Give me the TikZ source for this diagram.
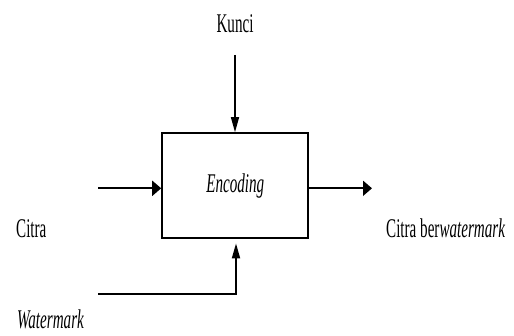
\documentclass[tikz,border=0pt]{standalone}
\usepackage{fontspec}
\setmainfont{Liberation Serif}[FakeStretch=0.56]
\usetikzlibrary{arrows.meta}
\begin{document}
\begin{tikzpicture}[x=1pt,y=-1pt,
    lbl/.style={font=\fontsize{27}{31}\selectfont, inner sep=0pt},
    harrow/.style={line width=1.8pt, -{Triangle[length=9pt,width=15pt]}},
    varrow/.style={line width=1.4pt, -{Triangle[length=15pt,width=8pt]}}]
            \useasboundingbox (0,0) rectangle (514,336);

            \node[draw, line width=2.2pt, minimum width=146pt, minimum height=105pt,
                  inner sep=0pt, lbl, font=\fontsize{27}{31}\selectfont\itshape]
                  (enc) at (235.3,185.8) {Encoding};
            \node[lbl, anchor=base] (kunci) at (235,33) {Kunci};
            \node[lbl, anchor=base west] (citra) at (16,238) {Citra};
            \node[lbl, anchor=base west] (cw) at (386,238) {Citra ber\textit{watermark}};
            \node[lbl, anchor=base west] (wm) at (17,329) {\textit{Watermark}};

            \coordinate (k0) at (235,55);
            \coordinate (c0) at (98,188.3);
            \coordinate (o1) at (372,188.3);
            \coordinate (w0) at (98,294);

            \draw[varrow] (k0) to (k0 |- enc.north);
            \draw[harrow] (c0) to (c0 -| enc.west);
            \draw[harrow] (o1 -| enc.east) to (o1);
            \draw[varrow, line width=1.8pt] (w0) -- ([xshift=0.7pt]w0 -| enc.south)
                -- ([xshift=0.7pt,yshift=-4pt]enc.south);
        \end{tikzpicture}
\end{document}
